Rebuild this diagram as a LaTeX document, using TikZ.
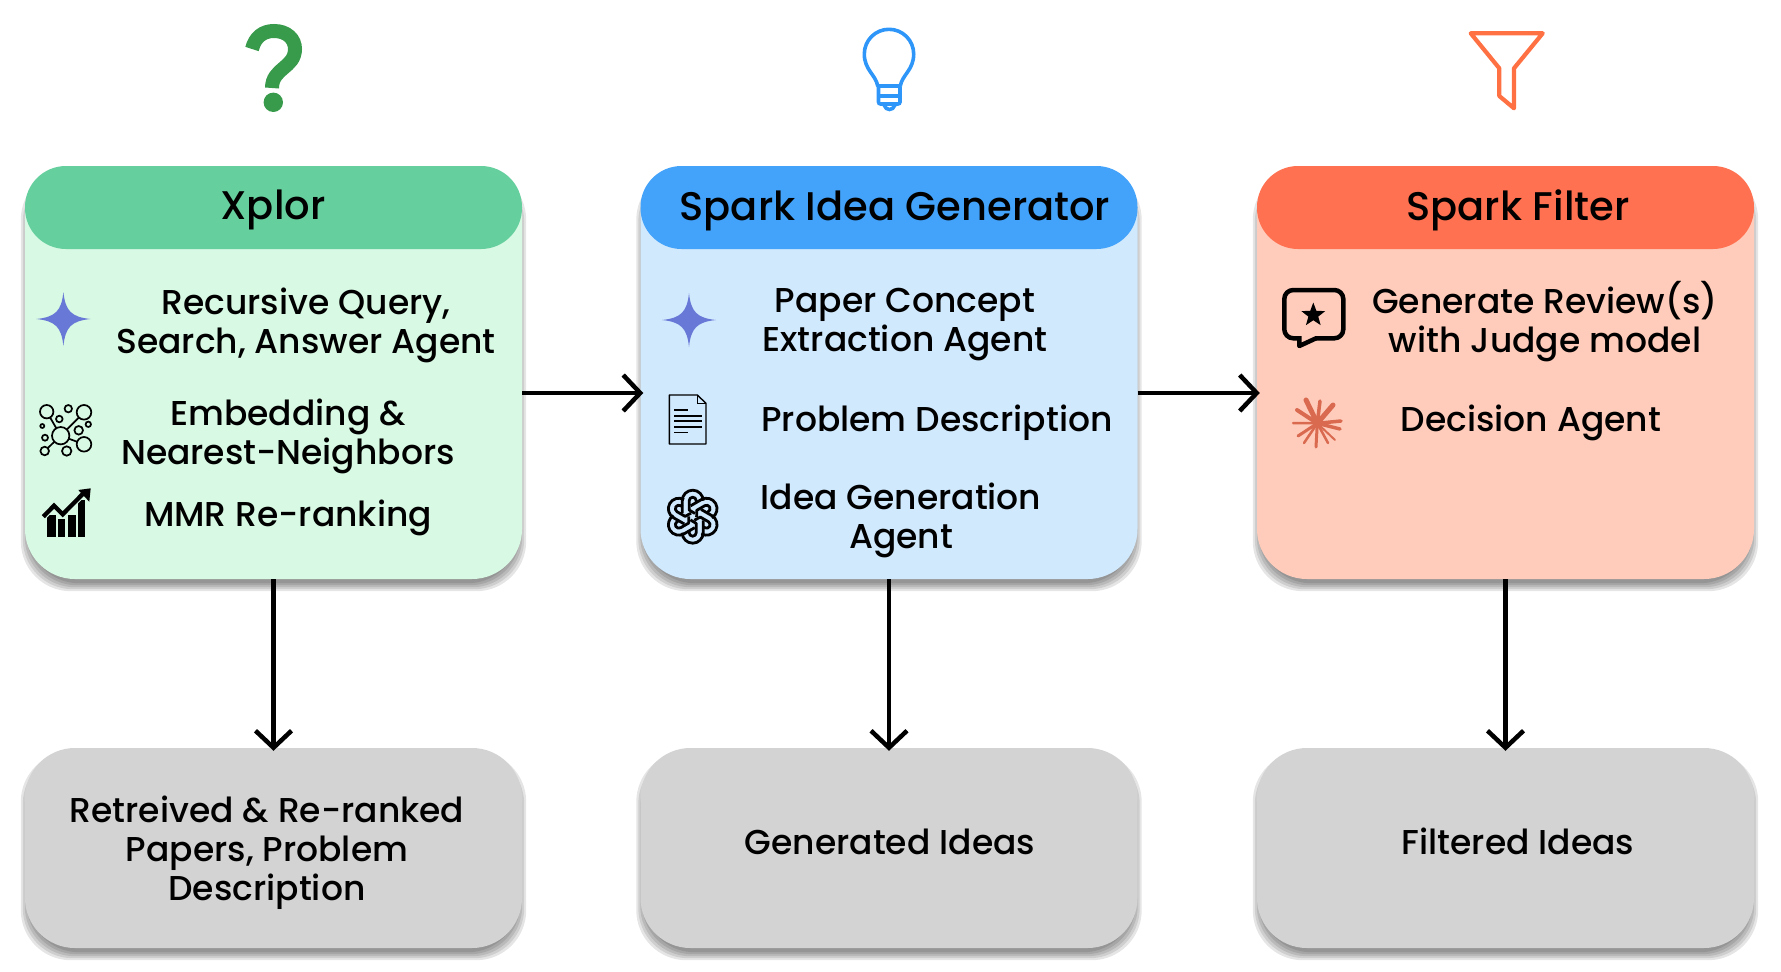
\documentclass[tikz,border=0pt]{standalone}
\usepackage{fontspec}
\setmainfont{Poppins}[UprightFont=* Medium]
\usetikzlibrary{shapes.geometric, arrows.meta, backgrounds}
\definecolor{XplorHead}{HTML}{66CF9E}
\definecolor{XplorBody}{HTML}{D8F9E3}
\definecolor{SparkHead}{HTML}{43A2F9}
\definecolor{SparkBody}{HTML}{D1E9FD}
\definecolor{FilterHead}{HTML}{FF7150}
\definecolor{FilterBody}{HTML}{FFCCBB}
\definecolor{OutBox}{HTML}{D3D3D3}
\definecolor{IconGreen}{HTML}{389B4C}
\definecolor{IconBlue}{HTML}{2E96F8}
\definecolor{IconOrange}{HTML}{FF7043}
\definecolor{IconStar}{HTML}{6878D6}
\definecolor{IconBurst}{HTML}{D9694F}
\tikzset{
    % Box styles
    bodybox/.style={
        rectangle,
        minimum width=497pt,
        minimum height=413pt,
        inner sep=0pt,
        rounded corners=50pt
    },
    headbox/.style={
        rectangle,
        minimum width=497pt,
        minimum height=83pt,
        inner sep=0pt,
        rounded corners=41pt
    },
    outbox/.style={
        rectangle,
        fill=OutBox,
        minimum width=497pt,
        minimum height=200pt,
        inner sep=0pt,
        rounded corners=50pt
    },
    % Text styles
    headtext/.style={font=\fontsize{40}{46}\selectfont},
    itemtext/.style={align=center, inner sep=0pt, font=\fontsize{34.5}{39}\selectfont},
    % Arrow styles
    flowarrow/.style={
        -{Straight Barb[length=17pt,width=36pt,line width=4.5pt]},
        line width=4.5pt,
        shorten >=-3pt,
        black
    },
    % Icon styles
    thinicon/.style={line width=1.7pt, black},
    knotline/.style={line width=2.8pt, black, line join=round}
}
\begin{document}
\begin{tikzpicture}[x=1pt,y=-1pt]
    \useasboundingbox (0,0) rectangle (1781,972);

    % Top icons
    \draw[IconGreen,line width=14pt] (252,49) .. controls (255,37) and (263,31) .. (274,31)
        .. controls (287,31) and (295,39) .. (295,49)
        .. controls (295,68) and (272,68) .. (272,88);
    \fill[IconGreen] (273.3,102.3) circle (9.7);

    \draw[IconBlue,line width=3.6pt,line join=round] (877.7,86) .. controls (876,75) and (864.3,70) .. (864.3,54)
        arc[start angle=180,end angle=360,radius=24.7]
        .. controls (913.7,70) and (902,75) .. (900.3,86) -- cycle;
    \draw[IconBlue,line width=3.6pt,rounded corners=2pt] (878.5,87) -- (878.5,104) -- (900,104) -- (900,87);
    \draw[IconBlue,line width=3.6pt] (878.5,96) -- (900,96);
    \draw[IconBlue,line width=3.6pt] (884,105) .. controls (886,111) and (893,111) .. (895,105);

    \draw[IconOrange,line width=4.2pt,line join=round] (1470.7,33.3) -- (1542.7,33.3) -- (1514,68.3)
        -- (1514,108.3) -- (1499.3,96) -- (1499.3,68.3) -- cycle;

    % Main boxes
    \node[bodybox,fill=XplorBody] (xplor) at (273.5,372.5) {};
    \node[bodybox,fill=SparkBody] (ideagen) at (889,372.5) {};
    \node[bodybox,fill=FilterBody] (filter) at (1505.5,372.5) {};
    \node[headbox,fill=XplorHead] (xplorhead) at (273.5,207.5) {};
    \node[headbox,fill=SparkHead] (ideagenhead) at (889,207.5) {};
    \node[headbox,fill=FilterHead] (filterhead) at (1505.5,207.5) {};

    % Output boxes
    \node[outbox] (papers) at (273.5,848) {};
    \node[outbox] (ideas) at (889,848) {};
    \node[outbox] (filtered) at (1505.5,848) {};

    % Soft shadows
    \begin{pgfonlayer}{background}
        \foreach \bx in {xplor,ideagen,filter,papers,ideas,filtered} {
            \foreach \g in {-4,-2,...,4} {
                \fill[black,opacity=0.1,rounded corners=50pt]
                    ([shift={(-\g pt,-8pt-\g pt)}]\bx.south west) rectangle ([shift={(\g pt,-8pt+\g pt)}]\bx.north east);
            }
        }
    \end{pgfonlayer}

    % Headings
    \node[headtext] (xplortitle) at (273,210) {Xplor};
    \node[headtext] (ideagentitle) at (895,211) {Spark Idea Generator};
    \node[headtext] (filtertitle) at (1518,210) {Spark Filter};

    % Item labels
    \node[itemtext] (recursive) at (306,325) {Recursive Query,\\Search, Answer Agent};
    \node[itemtext] (embedding) at (288,436) {Embedding \&\\Nearest-Neighbors};
    \node[itemtext] (mmr) at (288,518) {MMR Re-ranking};
    \node[itemtext] (concept) at (905,325) {Paper Concept\\Extraction Agent};
    \node[itemtext] (problem) at (937,423) {Problem Description};
    \node[itemtext] (generation) at (901,520) {Idea Generation\\Agent};
    \node[itemtext] (review) at (1545,322) {Generate Review(s)\\with Judge model};
    \node[itemtext] (decision) at (1531,423) {Decision Agent};

    % Output labels
    \node[itemtext] (paperstext) at (267,853) {Retreived \& Re-ranked\\Papers, Problem\\Description};
    \node[itemtext] (ideastext) at (890,842) {Generated Ideas};
    \node[itemtext] (filteredtext) at (1518,841) {Filtered Ideas};

    % Sparkle icons
    \foreach \cx/\cy in {63.4/319,689/320} {
        \fill[IconStar] (\cx,\cy-27) .. controls (\cx+2,\cy-8) and (\cx+8,\cy-2) .. (\cx+27,\cy)
            .. controls (\cx+8,\cy+2) and (\cx+2,\cy+8) .. (\cx,\cy+27)
            .. controls (\cx-2,\cy+8) and (\cx-8,\cy+2) .. (\cx-27,\cy)
            .. controls (\cx-8,\cy-2) and (\cx-2,\cy-8) .. (\cx,\cy-27) -- cycle;
    }

    % Network icon
    \draw[thinicon] (60.7,435.7) -- (46.7,411.7) (60.7,435.7) -- (84,412.3) (60.7,435.7) -- (84,444.3) (60.7,435.7) -- (44.7,451);
    \foreach \cx/\cy/\r in {60.7/435.7/8.7,46.7/411.7/6.7,84/412.3/7.3,84/444.3/7.3,44.7/451/4.3,66.7/451/4.7,45/437.7/3,42.3/426/2,59.3/419/3.3,68.3/408.7/3.7,78.7/430.3/4.3,88.3/424.3/2.7} {
        \filldraw[thinicon,fill=XplorBody] (\cx,\cy) circle (\r);
    }

    % Chart icon
    \fill (46.5,515) rectangle (55.5,536.7);
    \fill (58,519) rectangle (65,536.7);
    \fill (67.5,515) rectangle (75.5,536.7);
    \fill (77.5,500) rectangle (85,536.7);
    \draw[XplorBody,line width=6.5pt] (43.3,516.7) -- (54,505.7) -- (62.7,514.3) -- (85,491.7);
    \draw[line width=4.3pt] (43.3,516.7) -- (54,505.7) -- (62.7,514.3) -- (85,491.7);
    \fill (78.3,490) -- (90.7,488.3) -- (89.3,501.7) -- cycle;

    % Document icon
    \draw[line width=1.4pt,line join=round] (669.3,395) -- (697.3,395) -- (706,403.3) -- (706,444) -- (669.3,444) -- cycle;
    \draw[line width=1.2pt] (697.3,395) -- (697.3,403.3) -- (706,403.3);
    \foreach \ly/\lx in {410/688,416/702,421/702,427/702,432.5/688} {
        \draw[line width=1.3pt] (674.3,\ly) -- (\lx,\ly);
    }

    % Knot icon
    \foreach \a in {0,60,...,300} {
        \draw[knotline,rotate around={\a:(692.7,516.7)}] (703.2,500.7) arc[start angle=0,end angle=-180,radius=10.5] -- (682.2,513);
        \draw[knotline,rotate around={\a:(692.7,516.7)}] (696.2,503) -- (696.2,500.7) arc[start angle=0,end angle=-180,radius=3.5] -- (689.2,510) -- (695,513.5);
    }

    % Review icon
    \draw[line width=4.5pt,line join=round,rounded corners=9pt] (1299.3,338.3) -- (1284.3,338.3) -- (1284.3,290) -- (1343.3,290) -- (1343.3,338.3) -- (1315,338.3);
    \draw[line width=4.5pt,line join=round] (1299.3,336) -- (1299.3,346) -- (1316,338.3);
    \node[star,star points=5,star point ratio=2.4,fill=black,inner sep=0pt,minimum size=25pt] (reviewstar) at (1313.3,315) {};

    % Burst icon
    \foreach \ex/\ey/\w in {1306/400/5,1320/401/3.5,1333/405/5,1341/421/3.5,1340/429/3.5,1335/440/2,1328/443/2.5,1316/447/3,1304/443/2.5,1298/436/3,1293/423/2.5,1297/410/4} {
        \draw[IconBurst,line width=\w pt,line cap=round] (1317.3,423.3) -- (\ex,\ey);
    }

    % Connectors
    \draw[flowarrow] ([yshift=-20.5pt]xplor.east) -- ([yshift=-20.5pt]ideagen.west);
    \draw[flowarrow] ([yshift=-20.5pt]ideagen.east) -- ([yshift=-20.5pt]filter.west);
    \draw[flowarrow] (xplor) -- (papers);
    \draw[flowarrow] (ideagen) -- (ideas);
    \draw[flowarrow] (filter) -- (filtered);
\end{tikzpicture}
\end{document}
